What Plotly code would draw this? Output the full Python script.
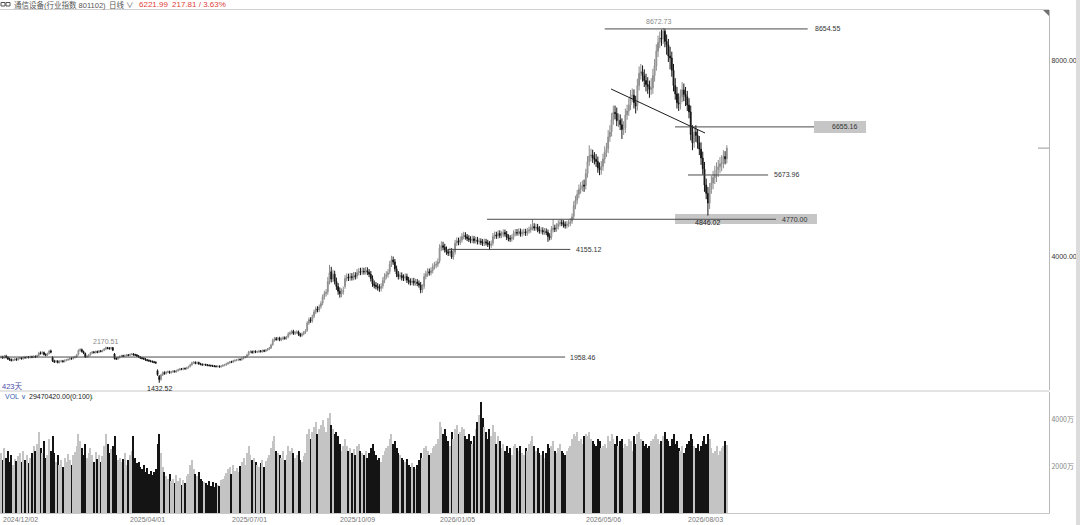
import plotly.graph_objects as go

# ---------------- data ----------------
date_idx = [0, 74, 133, 196, 254, 339, 398]
date_labels = ["2024/12/02", "2025/04/01", "2025/07/01", "2025/10/09",
               "2026/01/05", "2026/05/06", "2026/08/03"]

price_ticks = [4000, 8000]
price_tick_text = ["4000.00", "8000.00"]
vol_ticks = [2000, 4000]
vol_tick_text = ["2000万", "4000万"]

opens = [
1950,1960,1945,1975,1950,1920,1905,1890,1900,1915,
1905,1930,1940,1925,1950,1945,1960,1950,1965,1955,
1970,1960,1990,2040,2030,2050,2010,2000,2030,2080,
1950,1880,1860,1875,1850,1870,1880,1865,1890,1900,
1910,1930,1925,1950,1960,2010,2090,2110,2070,2030,
1960,1975,2005,2040,2060,2050,2070,2055,2080,2075,
2095,2120,2150,2140,2130,2150,2020,1930,1920,1945,
1970,1985,1975,1990,2000,1995,2010,2020,2005,2000,
1980,1960,1940,1930,1920,1900,1890,1880,1870,1860,
1850,1680,1560,1500,1590,1640,1620,1650,1660,1640,
1655,1670,1660,1680,1700,1715,1710,1725,1720,1740,
1765,1800,1840,1850,1830,1845,1820,1810,1800,1805,
1795,1790,1785,1780,1775,1770,1765,1770,1760,1775,
1790,1800,1820,1840,1860,1855,1880,1890,1900,1910,
1905,1930,1950,1965,2005,2060,2070,2050,2075,2060,
2065,2080,2070,2090,2080,2100,2120,2145,2210,2300,
2330,2320,2340,2310,2330,2350,2340,2370,2430,2450,
2480,2440,2460,2470,2420,2400,2430,2460,2500,2650,
2720,2700,2790,2880,2940,2920,2990,3060,3180,3250,
3290,3500,3700,3550,3650,3500,3400,3300,3250,3290,
3400,3560,3590,3570,3600,3580,3620,3610,3680,3700,
3690,3710,3700,3720,3690,3650,3560,3450,3420,3400,
3380,3360,3410,3520,3600,3640,3700,3850,3940,3900,
3760,3650,3600,3620,3580,3570,3600,3530,3500,3480,
3510,3470,3490,3460,3430,3330,3400,3600,3650,3700,
3680,3720,3800,3830,3850,3920,4180,4230,4200,4150,
4100,4080,4120,4000,4100,4280,4330,4300,4350,4420,
4440,4410,4380,4360,4340,4370,4330,4350,4310,4320,
4300,4280,4310,4290,4260,4240,4280,4420,4450,4430,
4480,4440,4460,4500,4470,4400,4380,4370,4400,4480,
4500,4490,4520,4470,4500,4510,4490,4530,4550,4600,
4620,4590,4610,4560,4530,4540,4510,4520,4500,4420,
4410,4560,4590,4570,4620,4680,4700,4690,4660,4640,
4670,4690,4730,4830,5050,5160,5280,5380,5420,5470,
5460,5700,5950,6060,6080,6020,5990,5950,5820,5780,
5850,6000,6140,6210,6450,6560,6800,6950,6930,6780,
6790,6700,6600,6630,6900,6980,7100,7280,7300,7150,
7090,7500,7750,7780,7700,7600,7520,7480,7420,7450,
7700,7900,8200,8380,8470,8450,8610,8400,8330,8100,
8060,7810,7500,7330,7150,7120,7270,7410,7320,7270,
7100,6960,6500,6330,6550,6480,6330,6200,6020,5800,
5470,5300,5100,5400,5510,5620,5670,5780,5840,5900,
5920,6050,6004.18,
]

highs = [
1990,1985,2000,2005,1975,1945,1930,1925,1940,1935,
1950,1962,1960,1972,1970,1982,1980,1988,1985,1995,
1992,2008,2065,2072,2078,2070,2035,2048,2105,2110,
1975,1902,1898,1895,1890,1902,1900,1910,1922,1930,
1950,1952,1970,1982,2022,2115,2140,2130,2090,2050,
1998,2020,2060,2080,2082,2090,2090,2100,2102,2112,
2142,2170.51,2165,2160,2166,2165,2040,1955,1965,1990,
2005,2005,2010,2022,2020,2030,2042,2038,2026,2018,
2000,1978,1960,1950,1938,1920,1910,1900,1888,1880,
1870,1705,1590,1615,1662,1668,1672,1682,1680,1676,
1692,1690,1700,1720,1736,1735,1745,1745,1760,1782,
1822,1862,1872,1870,1865,1864,1840,1830,1826,1824,
1815,1810,1805,1800,1795,1790,1790,1788,1795,1810,
1820,1840,1860,1880,1882,1900,1912,1920,1932,1930,
1950,1972,1982,2024,2085,2095,2092,2098,2096,2088,
2105,2102,2112,2112,2124,2144,2165,2230,2335,2365,
2368,2370,2372,2360,2382,2380,2390,2465,2485,2515,
2515,2492,2505,2500,2452,2460,2492,2525,2690,2765,
2770,2825,2925,2990,2995,3030,3100,3235,3310,3345,
3590,3840,3800,3740,3720,3580,3470,3380,3360,3395,
3630,3665,3660,3675,3670,3695,3690,3755,3775,3780,
3785,3780,3795,3790,3755,3715,3625,3520,3490,3465,
3445,3465,3590,3670,3710,3750,3920,4025,4010,3960,
3825,3715,3690,3685,3645,3665,3660,3595,3565,3575,
3575,3555,3550,3520,3490,3445,3670,3720,3770,3765,
3790,3870,3900,3920,3970,4260,4320,4310,4270,4215,
4165,4190,4180,4155,4350,4400,4395,4420,4490,4515,
4505,4470,4445,4425,4435,4430,4415,4410,4385,4380,
4365,4375,4370,4350,4325,4335,4490,4520,4515,4545,
4545,4525,4565,4560,4530,4465,4445,4460,4545,4570,
4570,4585,4580,4565,4580,4575,4595,4620,4670,4770,
4690,4680,4675,4630,4610,4605,4590,4585,4560,4485,
4630,4770,4660,4690,4750,4770,4760,4750,4725,4735,
4760,4790,4890,5140,5250,5370,5480,5530,5560,5580,
5800,6060,6280,6210,6190,6140,6100,6050,5930,5960,
6110,6260,6330,6590,6690,6940,7090,7090,7050,6930,
6910,6830,6770,7030,7110,7240,7410,7440,7420,7290,
7640,7890,7940,7910,7830,7740,7670,7600,7650,7840,
8040,8340,8520,8600,8640,8672.73,8660,8540,8450,8290,
8190,7940,7650,7470,7340,7420,7570,7540,7470,7390,
7240,7090,6690,6655,6690,6610,6470,6340,6150,5940,
5600,5430,5510,5660,5760,5860,5930,5980,6040,6080,
6180,6160,6280,
]

lows = [
1925,1920,1925,1930,1898,1880,1868,1870,1878,1882,
1885,1910,1905,1908,1925,1926,1930,1930,1935,1936,
1938,1940,1970,2008,2010,1990,1975,1980,2012,2035,
1858,1838,1840,1828,1830,1850,1845,1848,1870,1880,
1892,1905,1908,1930,1942,1990,2068,2050,2018,1940,
1940,1955,1985,2020,2030,2032,2036,2038,2055,2056,
2078,2100,2118,2108,2110,2080,1908,1898,1900,1928,
1952,1956,1958,1970,1975,1978,1992,1985,1980,1962,
1942,1922,1910,1900,1882,1870,1860,1850,1842,1830,
1818,1575,1432.52,1478,1570,1598,1600,1628,1618,1620,
1635,1640,1642,1662,1680,1690,1690,1700,1702,1722,
1748,1782,1820,1810,1812,1800,1790,1780,1782,1776,
1770,1766,1760,1755,1750,1745,1746,1740,1742,1756,
1770,1782,1802,1822,1835,1838,1860,1870,1880,1885,
1885,1910,1930,1945,1985,2038,2028,2030,2038,2040,
2044,2050,2048,2058,2060,2080,2098,2122,2188,2272,
2290,2292,2282,2284,2302,2312,2315,2345,2400,2420,
2410,2410,2430,2390,2365,2370,2402,2430,2475,2615,
2655,2660,2750,2835,2870,2875,2945,3015,3130,3195,
3230,3440,3480,3490,3440,3330,3230,3170,3180,3230,
3350,3500,3510,3515,3520,3525,3540,3555,3625,3630,
3635,3640,3645,3630,3590,3500,3390,3360,3340,3315,
3290,3300,3355,3465,3545,3580,3650,3795,3840,3700,
3590,3540,3545,3520,3510,3515,3470,3440,3420,3425,
3415,3415,3405,3375,3260,3270,3350,3545,3595,3620,
3625,3665,3745,3770,3795,3870,4120,4135,4090,4045,
4020,4025,3960,3945,4050,4225,4240,4245,4295,4360,
4355,4325,4305,4280,4285,4275,4275,4255,4255,4245,
4225,4225,4235,4205,4150,4185,4230,4365,4370,4375,
4385,4385,4405,4415,4345,4320,4310,4315,4350,4425,
4435,4435,4415,4415,4440,4430,4435,4475,4495,4545,
4535,4535,4505,4475,4475,4455,4455,4445,4310,4340,
4355,4500,4510,4515,4560,4625,4630,4600,4580,4585,
4610,4630,4675,4770,4975,5085,5200,5290,5340,5330,
5380,5620,5860,5950,5920,5890,5840,5720,5670,5680,
5760,5910,6040,6120,6350,6460,6700,6810,6670,6650,
6590,6410,6490,6530,6800,6880,7000,7160,7030,6930,
6990,7400,7620,7580,7470,7380,7330,7250,7310,7330,
7580,7800,8080,8260,8310,8350,8280,8130,7980,7830,
7680,7380,7210,7030,6980,7010,7160,7180,7080,6980,
6830,6380,6180,6230,6350,6210,6080,5880,5680,5330,
5180,4846.02,4980,5290,5380,5490,5530,5630,5710,5750,
5810,5890,5910,
]

closes = [
1960,1945,1975,1950,1920,1905,1890,1900,1915,1905,
1930,1940,1925,1950,1945,1960,1950,1965,1955,1970,
1960,1985,2040,2030,2050,2010,2000,2025,2080,2060,
1880,1860,1875,1850,1870,1880,1865,1890,1900,1910,
1930,1925,1950,1960,2000,2090,2110,2070,2040,1960,
1975,2000,2040,2060,2050,2070,2055,2080,2075,2090,
2120,2150,2140,2130,2150,2100,1930,1920,1945,1970,
1985,1975,1990,2000,1995,2010,2020,2005,2000,1980,
1960,1940,1930,1920,1900,1890,1880,1870,1860,1850,
1840,1600,1500,1590,1640,1620,1650,1660,1640,1655,
1670,1660,1680,1700,1715,1710,1725,1720,1740,1760,
1800,1840,1850,1830,1845,1820,1810,1800,1805,1795,
1790,1785,1780,1775,1770,1765,1770,1760,1775,1790,
1800,1820,1840,1860,1855,1880,1890,1900,1910,1905,
1930,1950,1960,2000,2060,2070,2050,2075,2060,2065,
2080,2070,2090,2080,2100,2120,2140,2200,2300,2330,
2320,2340,2310,2330,2350,2340,2360,2430,2450,2480,
2440,2460,2470,2420,2400,2430,2460,2490,2650,2720,
2700,2780,2880,2940,2920,2980,3050,3180,3250,3280,
3500,3680,3550,3650,3500,3400,3300,3250,3290,3320,
3560,3590,3570,3600,3580,3620,3600,3680,3700,3690,
3710,3700,3720,3690,3650,3560,3450,3420,3400,3380,
3360,3400,3520,3600,3640,3680,3850,3940,3900,3760,
3650,3600,3620,3580,3570,3600,3530,3500,3480,3510,
3470,3490,3460,3430,3330,3380,3600,3650,3700,3680,
3720,3800,3830,3850,3900,4180,4230,4200,4150,4100,
4080,4120,4000,4090,4280,4330,4300,4350,4420,4440,
4410,4380,4360,4340,4370,4330,4350,4310,4320,4300,
4280,4310,4290,4260,4240,4270,4420,4450,4430,4480,
4440,4460,4500,4470,4400,4380,4370,4400,4480,4500,
4490,4520,4470,4500,4510,4490,4530,4550,4600,4620,
4590,4610,4560,4530,4540,4510,4520,4500,4420,4400,
4560,4590,4570,4620,4680,4700,4690,4660,4640,4670,
4690,4720,4820,5050,5160,5280,5380,5420,5460,5450,
5700,5950,6060,6080,6020,5990,5950,5820,5780,5850,
6000,6140,6200,6450,6550,6800,6950,6930,6780,6790,
6700,6600,6620,6900,6980,7100,7280,7300,7150,7080,
7500,7750,7780,7700,7600,7520,7480,7420,7450,7700,
7900,8200,8380,8470,8450,8610,8400,8330,8100,8060,
7810,7500,7330,7150,7120,7270,7410,7320,7270,7100,
6960,6500,6330,6550,6480,6330,6200,6020,5800,5470,
5300,5100,5400,5510,5620,5670,5780,5840,5900,5920,
6050,6004.18,6221.99,
]

# volume in 万 (10k shares)
volumes = [
2600,2300,2800,2400,2700,2200,2500,2100,2350,2250,
2450,2600,2200,2700,2300,2500,2150,2400,2600,2900,
2700,3000,3500,2800,2600,3100,2400,2500,3200,2700,
3300,2600,2200,2500,2100,2300,2000,2400,2200,2550,
2300,2100,2500,2650,2900,3400,3100,2800,2500,3000,
2400,2600,2800,2500,2200,2650,2350,2500,2200,2450,
2900,3400,3000,2600,2750,2900,3300,2500,2300,2400,
2200,2350,2600,2100,2300,2500,2700,3300,2400,2150,
2200,2000,1900,2100,1800,1950,1700,1850,1650,1800,
1900,3000,3400,2600,2000,1800,1600,1500,1700,1400,
1500,1300,1650,1400,1550,1250,1450,1300,1600,1700,
2100,2300,1900,1700,1600,1800,1500,1400,1350,1300,
1250,1400,1200,1350,1150,1300,1250,1200,1450,1500,
1600,1750,1900,2000,1700,2100,1850,1950,1800,2050,
2200,2400,2100,2600,2900,2500,2300,2400,2200,2100,
2000,2150,2300,2000,2250,2400,2500,2800,3100,3300,
2700,2600,2500,2400,2700,2300,2500,2900,2700,2800,
2600,2400,2500,2700,2300,2200,2450,2600,3400,3600,
3200,3500,3700,3900,3400,3600,3800,4000,3700,3500,
4100,4300,3800,3600,3400,3500,3300,3000,2700,2900,
3200,2900,2700,2800,2600,2750,2500,2900,3000,2700,
2600,2500,2700,2400,2600,2800,3000,2700,2500,2300,
2400,2200,2500,2700,2800,2900,3200,3400,3000,3100,
2800,2600,2500,2400,2300,2200,2350,2100,2000,2150,
2000,1900,2100,2300,2600,2400,2800,2900,2700,2500,
2600,2800,2900,3000,3200,3900,3700,3400,3600,3300,
3100,2900,3500,3200,3600,3800,3400,3500,3700,3600,
3300,3200,3400,3100,3000,3300,3600,3900,4200,4760,
4100,3700,3500,3200,3600,3300,3800,3500,3000,3300,
3100,2800,3000,2700,2900,2600,2800,2500,2900,3000,
2800,2700,2900,2600,2500,2800,2700,3000,3100,3300,
2900,2700,2800,2600,2500,2700,2400,2600,3000,2800,
2900,3100,2700,2600,2800,3000,2700,2600,2500,2700,
2800,2900,3200,3400,3300,3500,3100,3200,3000,3300,
3400,3300,3500,3200,3100,3000,2900,3200,3100,2800,
2900,3000,2800,3300,3100,3400,3200,3000,3300,2900,
3100,3200,2800,3000,2900,3200,3100,2700,3300,3000,
3400,3500,3200,3100,2900,3000,2800,2900,3100,3200,
3300,3400,3200,3000,3100,3300,3500,3200,3100,2900,
3200,3400,3000,3100,2800,2700,2900,2600,2800,3000,
3100,3400,3200,2900,2800,3000,2700,2900,3100,3300,
3000,3400,3200,2800,2600,2700,2900,2500,2700,2800,
2900,3100,2947.042,
]

# drawn support / resistance levels
level_top = 8654.55
level_6655 = 6655.16
level_5673 = 5673.96
level_4770 = 4770.00
level_4155 = 4155.12
level_1958 = 1958.46

# ---------------- figure ----------------
n = min(len(opens), len(highs), len(lows), len(closes), len(volumes))
xs = list(range(n))
O, H, L, C, V = opens[:n], highs[:n], lows[:n], closes[:n], volumes[:n]

W, Hgt = 1080, 525
ML, MR, MT, MB = 0, 31, 10, 12
PW = W - ML - MR          # 1049
PH = Hgt - MT - MB        # 503


def px(xp):
    return (xp - ML) / PW


def py(yp):
    return (Hgt - MB - yp) / PH


X_RANGE = [-0.58, 609.3]

fig = go.Figure()
fig.add_trace(go.Candlestick(
    x=xs, open=O, high=H, low=L, close=C,
    xaxis="x", yaxis="y",
    increasing=dict(line=dict(color="#8c8c8c", width=1), fillcolor="#c6c6c6"),
    decreasing=dict(line=dict(color="#141414", width=1), fillcolor="#141414"),
    whiskerwidth=0, showlegend=False, hoverinfo="skip",
))

vol_colors = ["#c4c4c4" if C[i] >= O[i] else "#141414" for i in range(n)]
fig.add_trace(go.Bar(
    x=xs, y=V, xaxis="x2", yaxis="y2", width=0.6,
    marker=dict(color=vol_colors, line=dict(width=0)),
    showlegend=False, hoverinfo="skip",
))

num_font = "Liberation Sans"
cjk_font = "Noto Sans CJK SC"

fig.update_layout(
    width=W, height=Hgt,
    margin=dict(l=ML, r=MR, t=MT, b=MB),
    paper_bgcolor="white", plot_bgcolor="white",
    bargap=0,
    xaxis=dict(domain=[0, 1], range=X_RANGE, anchor="y", showticklabels=False,
               showgrid=False, zeroline=False, showline=False, ticks="",
               rangeslider=dict(visible=False)),
    xaxis2=dict(domain=[0, 1], range=X_RANGE, anchor="y2", matches="x",
                showticklabels=False, showgrid=False, zeroline=False,
                showline=True, linecolor="#c8c8c8", linewidth=1, ticks=""),
    yaxis=dict(domain=[(Hgt - MB - 390) / PH, 1], range=[1285.8, 9040.8],
               side="right", anchor="x", tickvals=price_ticks, ticktext=price_tick_text,
               showgrid=False, zeroline=False, showline=True, linecolor="#b8b8b8",
               linewidth=1, ticks="", tickfont=dict(family=num_font, size=7, color="#333333")),
    yaxis2=dict(domain=[0, (Hgt - MB - 392) / PH], range=[43, 5191],
                side="right", anchor="x2", tickvals=vol_ticks, ticktext=vol_tick_text,
                showgrid=False, zeroline=False, showline=True, linecolor="#b8b8b8",
                linewidth=1, ticks="", tickfont=dict(family=cjk_font, size=7, color="#888888")),
    showlegend=False,
)

shapes = []
line_col = "#4a4a4a"


def hline(x0, x1, yv, col=line_col):
    shapes.append(dict(type="line", xref="x", yref="y", x0=x0, x1=x1, y0=yv, y1=yv,
                       line=dict(color=col, width=1)))


# highlight boxes (below traces)
shapes.append(dict(type="rect", xref="x", yref="y", x0=472.7, x1=502.9,
                   y0=6530.6, y1=6775.5, fillcolor="#c6c6c6", line=dict(width=0), layer="below"))
shapes.append(dict(type="rect", xref="x", yref="y", x0=391.9, x1=474.4,
                   y0=4673.5, y1=4877.6, fillcolor="#c6c6c6", line=dict(width=0), layer="below"))

hline(351, 469, level_top)
hline(391.9, 472.7, level_6655)
hline(399.4, 446, level_5673)
hline(282.6, 450.6, level_4770)
hline(260, 331, level_4155)
hline(-0.58, 328, level_1958)
# down-trend line
shapes.append(dict(type="line", xref="x", yref="y", x0=354.7, y0=7428.6, x1=409.3, y1=6530.6,
                   line=dict(color="#1a1a1a", width=1)))

# frame bits
shapes.append(dict(type="line", xref="paper", yref="paper", x0=0, x1=1, y0=py(9.5), y1=py(9.5),
                   line=dict(color="#d0d0d0", width=1)))
shapes.append(dict(type="line", xref="paper", yref="paper", x0=0, x1=1, y0=py(391), y1=py(391),
                   line=dict(color="#c8c8c8", width=1)))
# current price tick on the right axis
shapes.append(dict(type="line", xref="paper", yref="y", x0=px(1038), x1=1, y0=C[-1], y1=C[-1],
                   line=dict(color="#999999", width=1)))
# corner triangle
shapes.append(dict(type="path", xref="paper", yref="paper",
                   path=f"M {px(1043)},{py(10)} L {px(1049)},{py(10)} L {px(1049)},{py(16)} Z",
                   fillcolor="#707070", line=dict(width=0)))
# right scroll strip
shapes.append(dict(type="rect", xref="paper", yref="paper", x0=px(1076), x1=px(1081),
                   y0=py(526), y1=py(-1), fillcolor="#dcdcdc", line=dict(width=0)))
# header icon
for a, b in ((1, 5), (6, 10)):
    shapes.append(dict(type="rect", xref="paper", yref="paper", x0=px(a), x1=px(b),
                       y0=py(6), y1=py(2.5), line=dict(color="#555555", width=1)))

fig.update_layout(shapes=shapes)

ann = []


def text(x, y, s, xref="x", yref="y", xanchor="left", yanchor="middle",
         size=7, color="#333333", family=num_font, yshift=0):
    ann.append(dict(x=x, y=y, xref=xref, yref=yref, text=s, showarrow=False,
                    xanchor=xanchor, yanchor=yanchor, yshift=yshift,
                    font=dict(family=family, size=size, color=color)))


# price labels
peak_i = max(range(n), key=lambda i: H[i])
low_i = min(range(n), key=lambda i: L[i])
early_peak = max(range(100), key=lambda i: H[i])
late_low = min(range(400, n), key=lambda i: L[i])

text(peak_i - 2.5, H[peak_i], f"{H[peak_i]:.2f}", xanchor="center", yanchor="bottom",
     color="#8a8a8a", yshift=1)
text(early_peak, H[early_peak], f"{H[early_peak]:.2f}", xanchor="center", yanchor="bottom",
     color="#8a8a8a", yshift=0)
text(low_i, L[low_i], f"{L[low_i]:.2f}", xanchor="center", yanchor="top", color="#222222")
text(late_low, L[late_low], f"{L[late_low]:.2f}", xanchor="center", yanchor="top",
     color="#222222", yshift=-1)

text(472, level_top, f"{level_top:.2f}")
text(482, level_6655, f"{level_6655:.2f}")
text(448, level_5673, f"{level_5673:.2f}")
text(453, level_4770, f"{level_4770:.2f}")
text(333, level_4155, f"{level_4155:.2f}")
text(329.6, level_1958, f"{level_1958:.2f}")

# date labels
for di, dl in zip(date_idx, date_labels):
    text(di, py(519), dl, yref="paper", xref="x", color="#777777")

# header
hdr_font = "Liberation Sans, Noto Sans CJK SC"
text(px(12), py(4.5), "通信设备(行业指数 801102)", xref="paper", yref="paper",
     size=7.5, color="#555555", family=hdr_font)
text(px(107), py(4.5), "日线 ∨", xref="paper", yref="paper",
     size=7.5, color="#555555", family=hdr_font)
chg = C[-1] - C[-2]
pct = chg / C[-2] * 100
text(px(137), py(4.5), f"{C[-1]:.2f}", xref="paper", yref="paper",
     size=8, color="#e0403a")
text(px(170), py(4.5), f"{chg:.2f} / {pct:.2f}%", xref="paper", yref="paper",
     size=8, color="#e0403a")

text(px(0), py(386.5), f"{n}天", xref="paper", yref="paper",
     size=7.5, color="#4a4aa8", family=hdr_font)
text(px(3), py(396.5), "VOL ∨", xref="paper", yref="paper", size=7, color="#3a5fb0")
text(px(27), py(396.5), f"{V[-1] * 10000:.2f}(0:100)", xref="paper", yref="paper",
     size=7, color="#222222")
text(px(88), py(396.5), "↓", xref="paper", yref="paper", size=7, color="#2a9a2a")

fig.update_layout(annotations=ann)

fig.write_html(
    "out.html",
    config={"displayModeBar": False},
    post_script="document.body.style.margin='0';document.body.style.overflow='hidden';",
)
